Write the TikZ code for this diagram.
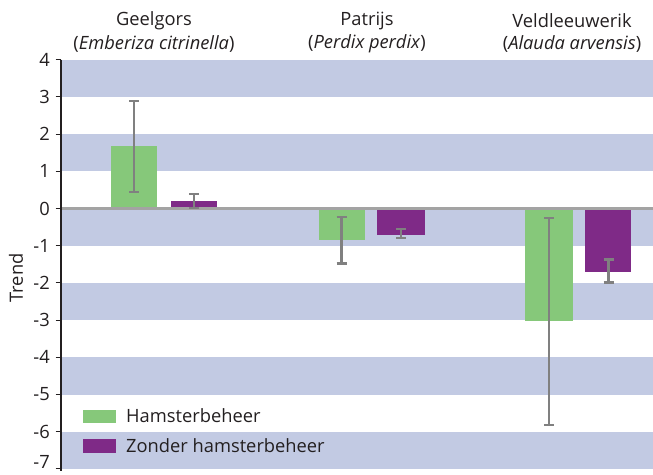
\documentclass[tikz,border=0pt]{standalone}
\usepackage{fontspec}
\setmainfont{Open Sans}
\definecolor{band}{HTML}{C2CAE3}
\definecolor{gbar}{HTML}{86C87A}
\definecolor{pbar}{HTML}{7F2A87}
\definecolor{err}{HTML}{808080}
\definecolor{zline}{HTML}{A3A3A3}
\definecolor{txt}{HTML}{231F20}
\tikzset{
  lbl/.style={font=\fontsize{18.3}{21}\selectfont, text=txt, inner sep=0pt},
  ticklbl/.style={font=\fontsize{18.3}{21}\selectfont, text=txt, inner sep=0pt, anchor=east},
  errbar/.style={draw=err, line width=2.6pt},
  errcap/.style={draw=err, line width=2.2pt},
}
\begin{document}
\begin{tikzpicture}[x=1pt,y=1pt]
\useasboundingbox (0,0) rectangle (653,474);
\fill[white] (0,0) rectangle (653,474);
% data scope: origin at value 0, one unit per trend unit
\begin{scope}[shift={(0,265.5)}, y=37.2pt]
  % bands
  \foreach \t in {4,2,0,-2,-4,-6} {
    \fill[band] (61,\t) rectangle (653,\t-1);
  }
  % bars
  \fill[gbar] (111,0) rectangle (157,1.68);
  \fill[pbar] (171,0) rectangle (217,0.20);
  \fill[gbar] (319,0) rectangle (365,-0.84);
  \fill[pbar] (377,0) rectangle (425,-0.70);
  \fill[gbar] (525,0) rectangle (573,-3.03);
  \fill[pbar] (585,0) rectangle (631,-1.70);
  % zero line
  \draw[zline, line width=2.2pt] (61,0) -- (653,0);
  % error bars
  \foreach \xc/\lo/\hi in {134/0.45/2.88, 194/0.02/0.40, 341.5/-1.48/-0.22, 401/-0.79/-0.55, 549/-5.82/-0.26, 608.5/-1.99/-1.37} {
    \draw[errbar] (\xc,\lo) -- (\xc,\hi);
    \draw[errcap] (\xc-5,\lo) -- (\xc+5,\lo);
    \draw[errcap] (\xc-5,\hi) -- (\xc+5,\hi);
  }
  % axis
  \draw[txt, line width=1.3pt] (61,4) -- (61,-7.05);
  \foreach \t in {4,3,2,1,0,-1,-2,-3,-4,-5,-6,-7} {
    \draw[txt, line width=1pt] (55.5,\t) -- (61,\t);
  }
  \foreach \t in {4,3,2,1,0,-1,-2,-3,-4,-5,-6} {
    \node[ticklbl] (tick\t) at (50,\t) {\t};
  }
\end{scope}
\node[ticklbl, anchor=south east] (tickm7) at (50,5) {-7};
% y label
\node[lbl, rotate=90] (ylab) at (16,196) {Trend};
% species titles
\node[lbl] (t1a) at (154,453) {Geelgors};
\node[lbl] (t1b) at (154,430) {(\textit{Emberiza citrinella})};
\node[lbl] (t2a) at (367,453) {Patrijs};
\node[lbl] (t2b) at (367,430) {(\textit{Perdix perdix})};
\node[lbl] (t3a) at (572,453) {Veldleeuwerik};
\node[lbl] (t3b) at (572,430) {(\textit{Alauda arvensis})};
% legend
\fill[gbar] (83,51) rectangle (116,64);
\node[lbl, anchor=west] (leg1) at (126,58) {Hamsterbeheer};
\fill[pbar] (83,21.5) rectangle (116,35);
\node[lbl, anchor=west] (leg2) at (126,28.5) {Zonder hamsterbeheer};
\end{tikzpicture}
\end{document}
